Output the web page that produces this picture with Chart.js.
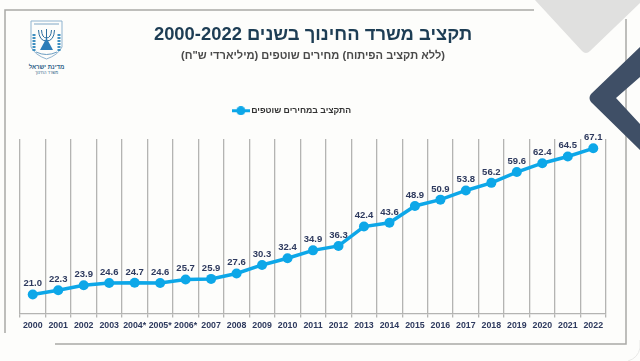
<!DOCTYPE html>
<html>
<head>
<meta charset="utf-8">
<title>תקציב משרד החינוך</title>
<script src="https://cdn.jsdelivr.net/npm/chart.js@4"></script>
<style>
html, body { margin: 0; padding: 0; background: #fdfdfb; }
#wrap { position: relative; width: 640px; height: 361px; overflow: hidden; }
#deco, #chart-budget { position: absolute; left: 0; top: 0; }
</style>
</head>
<body>
<div id="wrap">
<svg id="deco" width="640" height="361" viewBox="0 0 640 361">
  <path d="M5 333 V10 H534 M626 19 V344 H55" fill="none" stroke="#a9a9a7" stroke-width="1.5"/>
  <path d="M640 340 V348 Q638 358 628 361" fill="none" stroke="#e9e9e7" stroke-width="1"/>
  <path d="M535 0 H640 V3 L590 51 Q586 55 582 51 Z" fill="#e0e0df"/>
  <path d="M640 47 L591 94 Q588 98 591 102 L640 150 V124 L616 98 L640 77 Z" fill="#3f4f66"/>
  <path d="M31 21 H62 V47 Q58 55 46.5 59 Q35 55 31 47 Z" fill="none" stroke="#8fb3cf" stroke-width="1"/>
  <path d="M34 24 H59" stroke="#7fa6c4" stroke-width="1"/>
  <path d="M38.5 30 Q39 41 46.5 41 Q54 41 54.5 30 M41.5 30 Q42 38 46.5 38 Q51 38 51.5 30 M46.5 29 V46" fill="none" stroke="#2f6f9f" stroke-width="1"/>
  <path d="M46.5 38 L53 50 H40 Z" fill="#2c7db8"/>
  <path d="M34 34 V51 M59 34 V51" stroke="#3f8fc0" stroke-width="3" stroke-dasharray="2 1"/>
  <path d="M36 52 Q46.5 57 57 52" fill="none" stroke="#6a9cc0" stroke-width="1"/>
  <text x="46.5" y="68.5" text-anchor="middle" direction="rtl" font-family="Liberation Sans" font-weight="bold" font-size="6" fill="#2f6288">מדינת ישראל</text>
  <text x="46.5" y="74" text-anchor="middle" direction="rtl" font-family="Liberation Sans" font-size="4.2" fill="#2f6288">משרד החינוך</text>
</svg>
<canvas id="chart-budget" width="640" height="361"></canvas>
</div>
<script>
var years = ['2000', '2001', '2002', '2003', '2004*', '2005*', '2006*', '2007', '2008', '2009', '2010', '2011',
    '2012', '2013', '2014', '2015', '2016', '2017', '2018', '2019', '2020', '2021', '2022'];
var budget = [21.0, 22.3, 23.9, 24.6, 24.7, 24.6, 25.7, 25.9, 27.6, 30.3, 32.4, 34.9,
    36.3, 42.4, 43.6, 48.9, 50.9, 53.8, 56.2, 59.6, 62.4, 64.5, 67.1];
var titleText = 'תקציב משרד החינוך בשנים 2000-2022';
var subtitleText = '(ללא תקציב הפיתוח) מחירים שוטפים (מיליארדי ש"ח)';
var seriesName = 'התקציב במחירים שוטפים';

var blue = '#0da7e8';
var fontName = '"Liberation Sans", Arial, sans-serif';

// line with a dot, for the legend
var legendMark = document.createElement('canvas');
legendMark.width = 18;
legendMark.height = 9;
var m = legendMark.getContext('2d');
m.fillStyle = blue;
m.fillRect(0, 3, 18, 3);
m.beginPath();
m.arc(9, 4.5, 4.5, 0, Math.PI * 2);
m.fill();

// value above each point
var valueLabels = {
    id: 'valueLabels',
    afterDatasetsDraw: function(chart) {
        var ctx = chart.ctx;
        var points = chart.getDatasetMeta(0).data;
        ctx.save();
        ctx.font = 'bold 9.5px ' + fontName;
        ctx.fillStyle = '#2e3a5e';
        ctx.textAlign = 'center';
        ctx.textBaseline = 'bottom';
        points.forEach(function(pt, i) {
            ctx.fillText(budget[i].toFixed(1), pt.x, pt.y - 6);
        });
        ctx.restore();
    }
};

// legend sits left of the chart centre and higher above the plot in the original
var legendShift = {
    id: 'legendShift',
    afterLayout: function(chart) {
        chart.legend.left -= 20;
        chart.legend.right -= 20;
        chart.legend.top -= 14;
    }
};

var budgetChart = new Chart(document.getElementById('chart-budget'), {
    type: 'line',
    data: {
        labels: years,
        datasets: [
            {
                label: '\u2067' + seriesName + '\u2069',
                data: budget,
                fill: false,
                borderColor: blue,
                backgroundColor: blue,
                borderWidth: 3.5,
                pointRadius: 5,
                pointBackgroundColor: blue,
                pointBorderWidth: 0,
                tension: 0
            }
        ]
    },
    options: {
        responsive: false,
        animation: false,
        layout: { padding: { left: 20, right: 34, top: 24, bottom: 27 } },
        plugins: {
            title: {
                display: true,
                text: '\u2067' + titleText + '\u2069',
                color: '#1d3d54',
                font: { family: fontName, size: 18.4, weight: 'bold' },
                padding: { top: 0, bottom: 3 }
            },
            subtitle: {
                display: true,
                text: '\u2067' + subtitleText + '\u2069',
                color: '#4a4a4a',
                font: { family: fontName, size: 11.1, weight: 'bold' },
                padding: { top: 0, bottom: 34 }
            },
            legend: {
                position: 'top',
                labels: {
                    usePointStyle: true,
                    pointStyle: legendMark,
                    pointStyleWidth: 12,
                    color: '#333',
                    font: { family: fontName, size: 8.7, weight: 'bold' },
                    padding: 24
                }
            },
            tooltip: { enabled: false }
        },
        scales: {
            x: {
                offset: true,
                grid: { offset: true, color: '#b4b4b2', lineWidth: 1.3, tickLength: 4 },
                border: { color: '#b4b4b2', width: 1.3 },
                ticks: {
                    color: '#2e3a5e',
                    font: { family: fontName, size: 8.8, weight: 'bold' },
                    maxRotation: 0,
                    autoSkip: false,
                    padding: 3
                }
            },
            y: { display: false, min: 15, max: 70 }
        }
    },
    plugins: [valueLabels, legendShift]
});
</script>
</body>
</html>
